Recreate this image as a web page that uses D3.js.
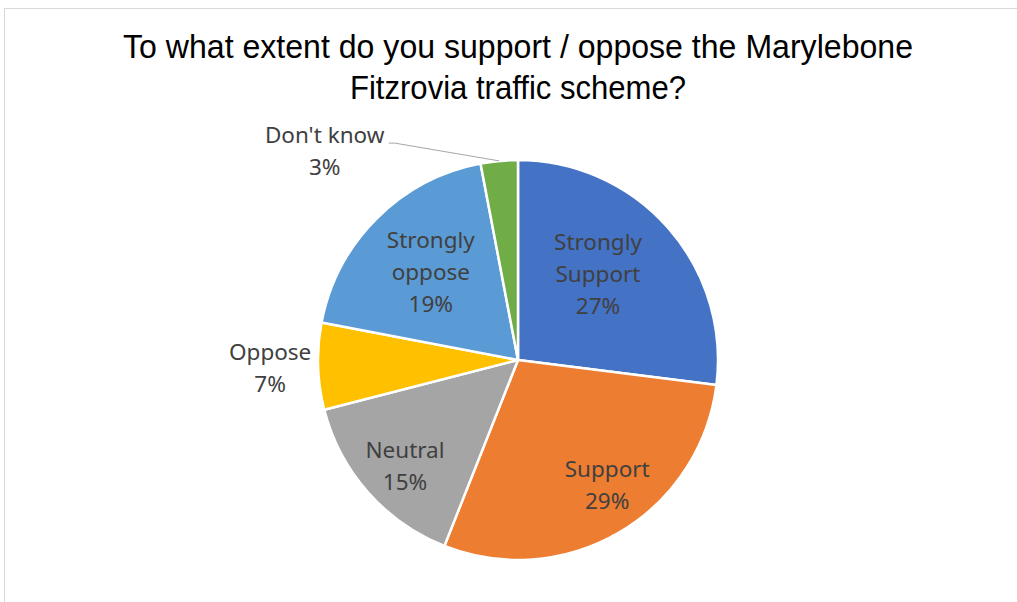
<!DOCTYPE html>
<html>
<head>
<meta charset="utf-8">
<script src="https://cdn.jsdelivr.net/npm/d3@7"></script>
<style>
  body { margin: 0; background: #fff; }
  svg { display: block; }
</style>
</head>
<body>
<div id="chart"></div>
<script>
// survey answers, clockwise from 12 o'clock
const categories = ["Strongly Support", "Support", "Neutral", "Oppose", "Strongly oppose", "Don't know"];
const values = [27, 29, 15, 7, 19, 3];
const labelLines = [["Strongly", "Support"], ["Support"], ["Neutral"], ["Oppose"], ["Strongly", "oppose"], ["Don't know"]];
const colors = ["#4472C4", "#ED7D31", "#A5A5A5", "#FFC000", "#5B9BD5", "#70AD47"];
const titleLines = ["To what extent do you support / oppose the Marylebone", "Fitzrovia traffic scheme?"];

let w = 1017, h = 602;
let cx = 518, cy = 360, r = 200;

let svg = d3.select("#chart").append("svg")
    .attr("width", w)
    .attr("height", h);

// chart area border
svg.append("rect")
    .attr("x", 4.5).attr("y", 8.5)
    .attr("width", w + 10).attr("height", h + 10)
    .attr("fill", "#fff")
    .attr("stroke", "#d9d9d9");

// title (squeezed to the width of the original narrow font)
svg.append("g").selectAll("text")
    .data(titleLines)
    .enter().append("text")
    .attr("x", 518)
    .attr("y", (d, i) => 58 + i * 41)
    .attr("text-anchor", "middle")
    .attr("textLength", (d, i) => i === 0 ? 790 : 336)
    .attr("lengthAdjust", "spacingAndGlyphs")
    .style("font-family", "'Liberation Sans', Arial, sans-serif")
    .style("font-size", "33px")
    .style("fill", "#000")
    .text(d => d);

let pie = d3.pie().sort(null).value(d => d.value);
let data = pie(categories.map((c, i) => ({name: c, value: values[i], lines: labelLines[i], color: colors[i]})));

let arc = d3.arc().innerRadius(0).outerRadius(r);

const g = svg.append("g").attr("transform", `translate(${cx}, ${cy})`);

g.selectAll("path")
    .data(data)
    .enter().append("path")
    .attr("d", arc)
    .attr("fill", d => d.data.color)
    .attr("stroke", "#fff")
    .attr("stroke-width", 2.5)
    .attr("stroke-linejoin", "round");

// label placement: inside labels on a middle ring, small slices outside
let labelArc = d3.arc().innerRadius(r * 0.68).outerRadius(r * 0.68);
let outerArc = d3.arc().innerRadius(r + 48).outerRadius(r + 48);
// nudges like Excel's best-fit placement
let nudge = {
    "Strongly Support": [-22, 4],
    "Support": [20, 8],
    "Neutral": [-11, 16],
    "Oppose": [0, 0],
    "Strongly oppose": [9, 8],
    "Don't know": [-170, 38]
};
let lineH = 32;

data.forEach(d => {
    let outside = d.data.value < 10;
    let c = outside ? outerArc.centroid(d) : labelArc.centroid(d);
    let n = nudge[d.data.name];
    c = [c[0] + n[0], c[1] + n[1]];
    let lines = d.data.lines.concat([d.data.value + "%"]);
    let top = c[1] - (lines.length - 1) * lineH / 2;
    let t = g.append("text")
        .attr("text-anchor", "middle")
        .style("font-family", "'Noto Sans', 'Open Sans', sans-serif")
        .style("font-size", "22.5px")
        .style("fill", "#404040");
    lines.forEach((l, i) => {
        t.append("tspan")
            .attr("x", c[0])
            .attr("y", top + i * lineH)
            .attr("dy", "0.35em")
            .text(l);
    });

    // leader line for the thin slice up top
    if (d.data.name === "Don't know") {
        let bb = t.node().getBBox();
        let mid = (d.startAngle + d.endAngle) / 2;
        let p = [Math.sin(mid) * r, -Math.cos(mid) * r];
        let y0 = top + 8;
        g.append("polyline")
            .attr("points", [[bb.x + bb.width + 4, y0], [bb.x + bb.width + 10, y0], p].join(" "))
            .attr("fill", "none")
            .attr("stroke", "#a6a6a6")
            .attr("stroke-width", 1);
    }
});
</script>
</body>
</html>
